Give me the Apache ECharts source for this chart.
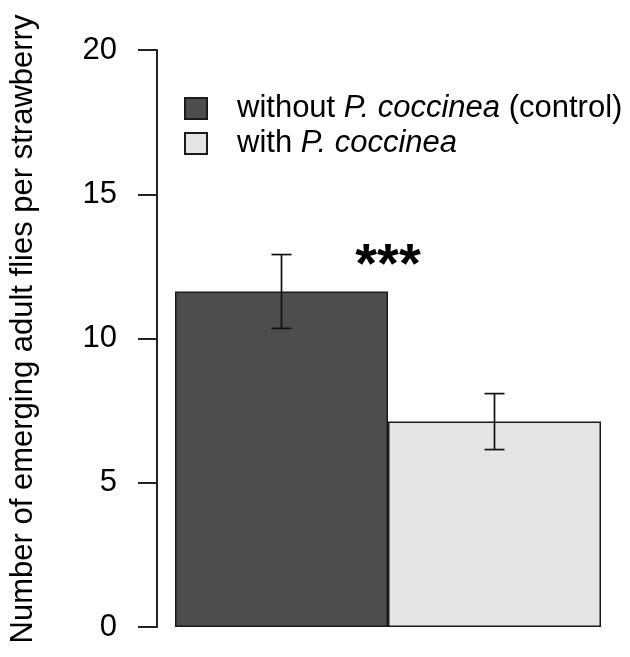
<!DOCTYPE html>
<html>
<head>
<meta charset="utf-8">
<script src="https://cdn.jsdelivr.net/npm/echarts@6/dist/echarts.min.js"></script>
<style>
  html, body { margin: 0; padding: 0; background: #ffffff; }
  #chart { width: 630px; height: 657px; }
</style>
</head>
<body>
<div id="chart"></div>
<script>
// Treatment groups, mean number of emerging flies and standard errors
const groups = ['control', 'P. coccinea'];
const seriesNames = ['without P. coccinea (control)', 'with P. coccinea'];
const means = [11.63, 7.12];
const stdErrors = [1.28, 0.97];
const yTicks = [0, 5, 10, 15, 20];
const significance = '***';
const yTitle = 'Number of emerging adult flies per strawberry';

const FONT = '"Liberation Sans", Arial, Helvetica, sans-serif';
const barColors = ['#4d4d4d', '#e5e5e5'];

const chart = echarts.init(document.getElementById('chart'), null, { renderer: 'canvas' });

// One bar series per treatment, stacked so each fills its whole category slot
const barSeries = seriesNames.map((name, i) => ({
  name: name,
  type: 'bar',
  stack: 'groups',
  barCategoryGap: '0%',
  data: groups.map((g, j) => (j === i ? means[i] : '-')),
  itemStyle: { color: barColors[i], borderColor: '#1a1a1a', borderWidth: 1.5 },
  emphasis: { disabled: true },
  z: 2
}));

// Mean ± SE whiskers with short caps
const errorSeries = {
  type: 'custom',
  name: 'se',
  data: groups.map((g, i) => [i, means[i], stdErrors[i]]),
  renderItem: function (params, api) {
    const idx = api.value(0);
    const m = api.value(1);
    const se = api.value(2);
    const hi = api.coord([idx, m + se]);
    const lo = api.coord([idx, m - se]);
    const cap = 10;
    const style = { stroke: '#111111', lineWidth: 1.7 };
    return {
      type: 'group',
      children: [
        { type: 'line', shape: { x1: hi[0], y1: hi[1], x2: lo[0], y2: lo[1] }, style: style },
        { type: 'line', shape: { x1: hi[0] - cap, y1: hi[1], x2: hi[0] + cap, y2: hi[1] }, style: style },
        { type: 'line', shape: { x1: lo[0] - cap, y1: lo[1], x2: lo[0] + cap, y2: lo[1] }, style: style }
      ]
    };
  },
  z: 5
};

const legendLabels = {
  [seriesNames[0]]: '{s|}{n|without }{i|P. coccinea}{n| (control)}',
  [seriesNames[1]]: '{s|}{n|with }{i|P. coccinea}'
};

const option = {
  animation: false,
  backgroundColor: '#ffffff',
  grid: { left: 175, right: 29, top: 50, bottom: 30, containLabel: false, outerBoundsMode: 'none' },
  legend: {
    data: seriesNames,
    orient: 'vertical',
    left: 184,
    top: 93,
    padding: 0,
    itemWidth: 22,
    itemHeight: 21,
    itemGap: 4,
    icon: 'rect',
    selectedMode: false,
    formatter: function (name) { return legendLabels[name]; },
    textStyle: {
      color: '#000000',
      fontFamily: FONT,
      fontSize: 31,
      rich: {
        s: { width: 25 },
        n: { fontFamily: FONT, fontSize: 31, color: '#000000' },
        i: { fontFamily: FONT, fontSize: 31, color: '#000000', fontStyle: 'italic' }
      }
    }
  },
  xAxis: {
    type: 'category',
    data: groups,
    axisLine: { show: false },
    axisTick: { show: false },
    axisLabel: { show: false },
    splitLine: { show: false }
  },
  yAxis: {
    type: 'value',
    min: yTicks[0],
    max: yTicks[yTicks.length - 1],
    interval: yTicks[1] - yTicks[0],
    offset: 18,
    axisLine: { show: true, lineStyle: { color: '#222222', width: 2 } },
    axisTick: { show: true, inside: false, length: 19, lineStyle: { color: '#222222', width: 2 } },
    axisLabel: { color: '#000000', fontFamily: FONT, fontSize: 31, margin: 40 },
    splitLine: { show: false }
  },
  series: barSeries.concat([errorSeries])
};

chart.setOption(option);

// Axis title and significance stars placed from the axis scales
const x0 = chart.convertToPixel({ xAxisIndex: 0 }, 0);
const x1 = chart.convertToPixel({ xAxisIndex: 0 }, 1);
const yStar = chart.convertToPixel({ yAxisIndex: 0 }, means[0] + stdErrors[0]);

chart.setOption({
  graphic: [
    {
      type: 'text',
      x: 23,
      y: 329,
      rotation: Math.PI / 2,
      style: {
        text: yTitle,
        font: '31px ' + FONT,
        fill: '#000000',
        textAlign: 'center',
        textVerticalAlign: 'middle'
      }
    },
    {
      type: 'text',
      x: (x0 + x1) / 2,
      y: yStar - 16,
      style: {
        text: significance,
        font: 'bold 56px ' + FONT,
        fill: '#000000',
        textAlign: 'center',
        textVerticalAlign: 'top'
      }
    }
  ]
});
</script>
</body>
</html>
